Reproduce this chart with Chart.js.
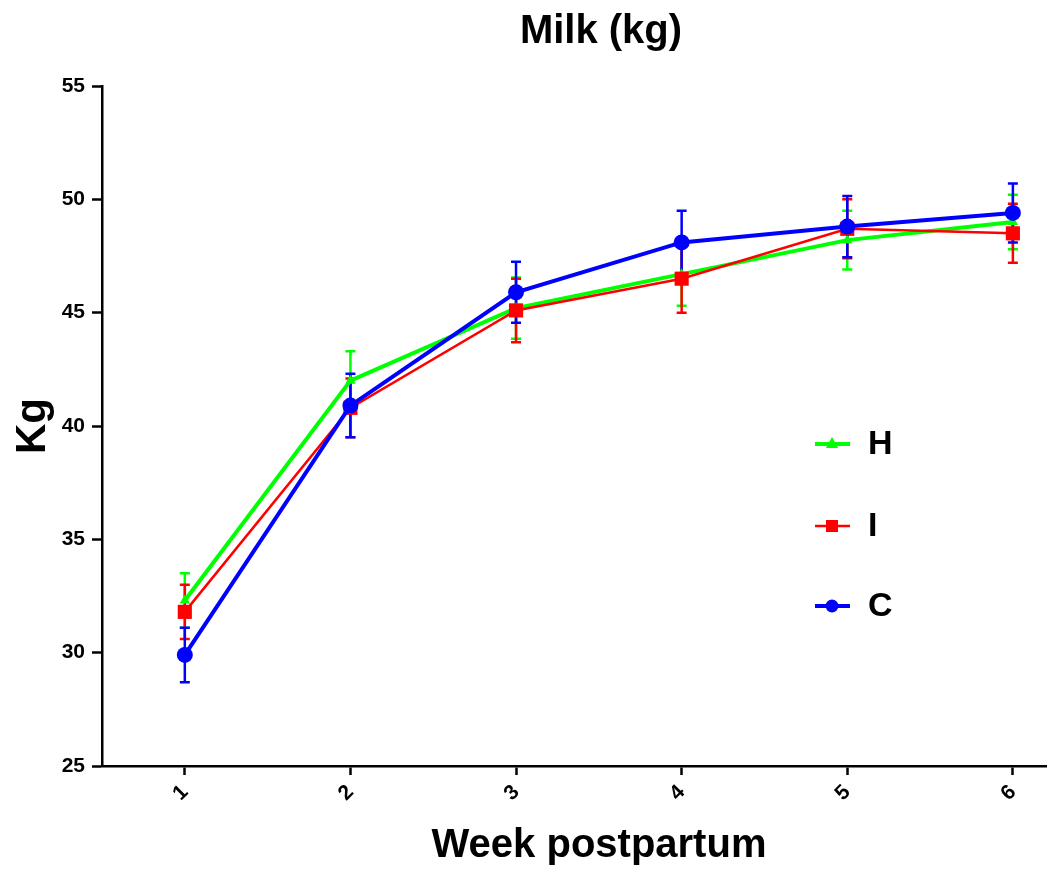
<!DOCTYPE html>
<html>
<head>
<meta charset="utf-8">
<script src="https://cdn.jsdelivr.net/npm/chart.js@4/dist/chart.umd.min.js"></script>
<style>
  html, body { margin: 0; padding: 0; background: #fff; }
  #wrap { width: 1048px; height: 872px; }
</style>
</head>
<body>
<div id="wrap"><canvas id="milkChart"></canvas></div>
<script>
// week postpartum
const weeks = [1, 2, 3, 4, 5, 6];

// mean milk yield (kg) per group
const milkH = [32.3, 42.0, 45.2, 46.7, 48.2, 49.0];
const milkI = [31.8, 40.8, 45.1, 46.5, 48.7, 48.5];
const milkC = [29.9, 40.9, 45.9, 48.1, 48.8, 49.4];

// error (SEM) per group
const errH = [1.2, 1.3, 1.35, 1.4, 1.3, 1.2];
const errI = [1.2, 1.3, 1.4, 1.5, 1.3, 1.3];
const errC = [1.2, 1.4, 1.35, 1.4, 1.35, 1.3];

const yTicks = [25, 30, 35, 40, 45, 50, 55];

const FONT = "'Liberation Sans', Arial, sans-serif";

function toPoints(vals) {
    return weeks.map((w, i) => ({ x: w, y: vals[i] }));
}

const groups = [
    { label: 'H', data: milkH, err: errH, color: '#00ff00', style: 'triangle', radius: 6, width: 4, order: 3 },
    { label: 'I', data: milkI, err: errI, color: '#ff0000', style: 'rect', radius: 10, width: 2.5, order: 2 },
    { label: 'C', data: milkC, err: errC, color: '#0000ff', style: 'circle', radius: 8, width: 4, order: 1 }
];

// error bars, drawn through the scales
const errorBars = {
    id: 'errorBars',
    beforeDatasetsDraw(chart) {
        const ctx = chart.ctx;
        const xs = chart.scales.x, ys = chart.scales.y;
        ctx.save();
        groups.forEach(g => {
            ctx.strokeStyle = g.color;
            ctx.lineWidth = 2.5;
            g.data.forEach((v, i) => {
                const px = xs.getPixelForValue(weeks[i]);
                const top = ys.getPixelForValue(v + g.err[i]);
                const bot = ys.getPixelForValue(v - g.err[i]);
                ctx.beginPath();
                ctx.moveTo(px, top); ctx.lineTo(px, bot);
                ctx.moveTo(px - 5, top); ctx.lineTo(px + 5, top);
                ctx.moveTo(px - 5, bot); ctx.lineTo(px + 5, bot);
                ctx.stroke();
            });
        });
        ctx.restore();
    }
};

// titles and legend
const extras = {
    id: 'extras',
    afterDraw(chart) {
        const ctx = chart.ctx;
        ctx.save();
        ctx.fillStyle = '#000';
        ctx.font = 'bold 40px ' + FONT;
        ctx.textAlign = 'center';
        ctx.textBaseline = 'alphabetic';
        ctx.fillText('Milk (kg)', 601, 43);
        ctx.fillText('Week postpartum', 599, 857);

        ctx.textBaseline = 'middle';
        const rows = [444, 526, 606];
        groups.forEach((g, i) => {
            const y = rows[i];
            ctx.strokeStyle = g.color;
            ctx.fillStyle = g.color;
            ctx.lineWidth = g.width;
            ctx.beginPath();
            ctx.moveTo(815, y); ctx.lineTo(850, y);
            ctx.stroke();
            ctx.beginPath();
            if (g.style === 'triangle') {
                ctx.moveTo(832, y - 7); ctx.lineTo(838, y + 4); ctx.lineTo(826, y + 4);
            } else if (g.style === 'rect') {
                ctx.rect(826, y - 6, 12, 12);
            } else {
                ctx.arc(832, y, 6.5, 0, Math.PI * 2);
            }
            ctx.fill();
            ctx.fillStyle = '#000';
            ctx.font = 'bold 34px ' + FONT;
            ctx.textAlign = 'left';
            ctx.fillText(g.label, 868, y + 1);
        });
        ctx.restore();
    }
};

new Chart(document.getElementById('milkChart'), {
    type: 'line',
    data: {
        datasets: groups.map(g => ({
            label: g.label,
            data: toPoints(g.data),
            borderColor: g.color,
            backgroundColor: g.color,
            borderWidth: g.width,
            pointStyle: g.style,
            pointRadius: g.radius,
            pointBorderWidth: 0,
            order: g.order,
            tension: 0,
            clip: false
        }))
    },
    options: {
        responsive: true,
        maintainAspectRatio: false,
        animation: false,
        layout: { autoPadding: false, padding: { top: 86, right: 2, left: 0, bottom: 0 } },
        plugins: { legend: { display: false }, title: { display: false }, tooltip: { enabled: false } },
        scales: {
            x: {
                type: 'linear',
                min: 0.5,
                max: 6.2,
                afterBuildTicks: s => { s.ticks = weeks.map(v => ({ value: v })); },
                afterFit: s => { s.height = 106; s.paddingRight = 0; s.paddingLeft = 0; },
                border: { color: '#000', width: 2.5 },
                grid: { drawOnChartArea: false, tickLength: 9, tickColor: '#000', tickWidth: 2.5 },
                ticks: { color: '#000', font: { family: FONT, size: 21, weight: 'bold' }, minRotation: 45, maxRotation: 45, padding: 5 }
            },
            y: {
                min: 25,
                max: 55,
                afterBuildTicks: s => { s.ticks = yTicks.map(v => ({ value: v })); },
                afterFit: s => { s.width = 102; },
                border: { color: '#000', width: 2.5 },
                grid: { drawOnChartArea: false, tickLength: 10, tickColor: '#000', tickWidth: 2.5 },
                ticks: { color: '#000', font: { family: FONT, size: 21, weight: 'bold' }, padding: 7 },
                title: { display: true, text: 'Kg', color: '#000', font: { family: FONT, size: 42, weight: 'bold' }, padding: { top: 8, bottom: 8 } }
            }
        }
    },
    plugins: [errorBars, extras]
});
</script>
</body>
</html>
